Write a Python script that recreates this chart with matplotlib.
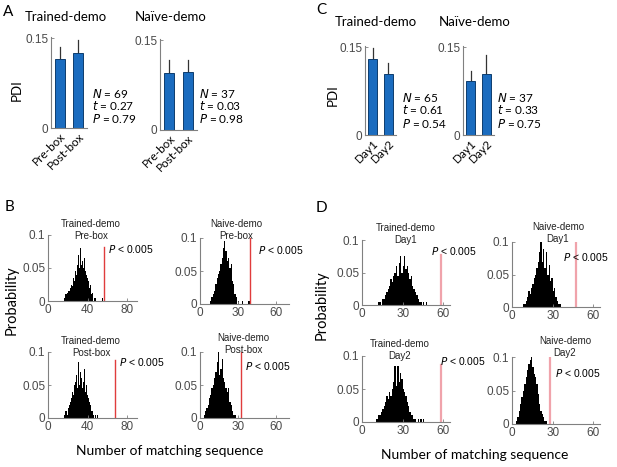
import matplotlib
matplotlib.use("Agg")
import matplotlib.pyplot as plt

W, H = 617, 467

# ---- data: PDI bars (value, upper error bar end) ----
box_labels = ["Pre-box", "Post-box"]
day_labels = ["Day1", "Day2"]
a_trained = [0.115, 0.126]
a_trained_err = [0.135, 0.147]
a_naive = [0.095, 0.097]
a_naive_err = [0.117, 0.117]
c_trained = [0.129, 0.104]
c_trained_err = [0.148, 0.123]
c_naive = [0.092, 0.105]
c_naive_err = [0.110, 0.136]
a_stats_trained = ["69", "0.27", "0.79"]
a_stats_naive = ["37", "0.03", "0.98"]
c_stats_trained = ["65", "0.61", "0.54"]
c_stats_naive = ["37", "0.33", "0.75"]

# ---- data: shuffled distributions (first bin value, probabilities per bin) ----
b_pre_trained_start = 16
b_pre_trained = [0.005, 0.01, 0.01, 0.012, 0.015, 0.015, 0.02, 0.025, 0.022, 0.035,
                 0.03, 0.045, 0.04, 0.055, 0.07, 0.05, 0.08, 0.055, 0.06, 0.05,
                 0.065, 0.045, 0.04, 0.035, 0.03, 0.02, 0.025, 0.01, 0.012, 0.005,
                 0, 0.005, 0.005, 0, 0, 0, 0, 0, 0, 0.005]
b_pre_naive_start = 8
b_pre_naive = [0.005, 0.01, 0.015, 0.02, 0.03, 0.04, 0.045, 0.05, 0.06, 0.07,
               0.085, 0.095, 0.08, 0.065, 0.07, 0.055, 0.06, 0.035, 0.03, 0.015,
               0.01, 0, 0.005, 0, 0, 0.005, 0, 0, 0, 0, 0.005]
b_post_trained_start = 16
b_post_trained = [0.005, 0.01, 0.01, 0.005, 0.015, 0.02, 0.025, 0.03, 0.04, 0.035,
                  0.05, 0.055, 0.065, 0.045, 0.085, 0.05, 0.07, 0.06, 0.045, 0.055,
                  0.075, 0.04, 0.05, 0.035, 0.03, 0.025, 0.02, 0.01, 0.01, 0.005,
                  0.005, 0, 0.005, 0, 0.005]
b_post_naive_start = 0
b_post_naive = [0.005, 0, 0, 0.005, 0.01, 0.015, 0.02, 0.03, 0.035, 0.045,
                0.05, 0.06, 0.07, 0.085, 0.1, 0.065, 0.075, 0.09, 0.06, 0.055,
                0.045, 0.04, 0.045, 0.025, 0.02, 0.01, 0.005, 0.005]
d_day1_trained_start = 12
d_day1_trained = [0.005, 0.005, 0, 0.01, 0.01, 0.015, 0.02, 0.025, 0.03, 0.04,
                  0.035, 0.045, 0.05, 0.06, 0.045, 0.065, 0.075, 0.05, 0.06, 0.075,
                  0.055, 0.06, 0.05, 0.04, 0.045, 0.03, 0.025, 0.02, 0.015, 0.01,
                  0.005, 0.005, 0, 0.005, 0, 0.005]
d_day1_naive_start = 8
d_day1_naive = [0.005, 0.005, 0.01, 0.015, 0.025, 0.02, 0.03, 0.035, 0.045, 0.05,
                0.06, 0.07, 0.085, 0.1, 0.07, 0.09, 0.06, 0.085, 0.05, 0.065,
                0.04, 0.045, 0.025, 0.03, 0.015, 0.01, 0.005, 0.005]
d_day2_trained_start = 10
d_day2_trained = [0.005, 0.005, 0.01, 0.01, 0.015, 0.02, 0.025, 0.03, 0.04, 0.035,
                  0.045, 0.04, 0.05, 0.06, 0.085, 0.055, 0.085, 0.06, 0.075, 0.065,
                  0.05, 0.045, 0.04, 0.03, 0.025, 0.015, 0.01, 0.01, 0.005, 0.005,
                  0, 0.005, 0, 0.005, 0, 0.005]
d_day2_naive_start = 3
d_day2_naive = [0.005, 0.01, 0.02, 0.03, 0.04, 0.05, 0.06, 0.07, 0.08, 0.09,
                0.095, 0.1, 0.085, 0.075, 0.07, 0.06, 0.045, 0.03, 0.02, 0.015,
                0.01, 0.005, 0.005]

# observed values (red lines) and their drawn heights
obs_b = [57, 39.5, 68, 32]
obs_b_h = [0.082, 0.1, 0.088, 0.1]
obs_d = [58.5, 47, 58, 28]
obs_d_h = [0.077, 0.1, 0.086, 0.1]

BLUE = "#1b6cbf"
SPINE = "#808080"
TICKC = "#4a4a4a"
CAL = ["Lato", "DejaVu Sans"]
ARI = ["Liberation Sans", "DejaVu Sans"]

fig = plt.figure(figsize=(W / 100, H / 100), dpi=100)


def box(l, t, r, b):
    return [l / W, 1 - b / H, (r - l) / W, (b - t) / H]


def ftext(x, y, s, **kw):
    kw.setdefault("family", CAL)
    fig.text(x / W, 1 - y / H, s, **kw)


def style(ax):
    for s in ["top", "right"]:
        ax.spines[s].set_visible(False)
    for s in ["left", "bottom"]:
        ax.spines[s].set_color(SPINE)
        ax.spines[s].set_linewidth(0.8)
    ax.tick_params(direction="in", length=2, width=0.6, color=SPINE,
                   labelcolor=TICKC, pad=2)


def bar_panel(rect, vals, errs, labels, stats, stat_x, stat_y):
    ax = fig.add_axes(box(*rect))
    style(ax)
    xs = [1, 2]
    ax.bar(xs, vals, width=0.55, color=BLUE, edgecolor="#0e3d6e", linewidth=0.7, zorder=2)
    for x, v, e in zip(xs, vals, errs):
        ax.plot([x, x], [v, e], color="#333333", lw=0.9, zorder=1)
    ax.set_xlim(0.5, 2.5)
    ax.set_ylim(0, 0.152)
    ax.set_yticks([0, 0.15])
    ax.set_yticklabels(["0", "0.15"], family=ARI, fontsize=8.5)
    ax.set_xticks(xs)
    ax.set_xticklabels(labels, rotation=45, ha="right", rotation_mode="anchor",
                       family=CAL, fontsize=8.5, color="black")
    ax.tick_params(axis="x", length=0)
    names = ["N", "t", "P"]
    for i, (n, v) in enumerate(zip(names, stats)):
        ftext(stat_x, stat_y + i * 13, r"$\it{%s}$ = %s" % (n, v), fontsize=8.5, va="center")
    return ax


bar_panel((51, 37, 87, 128), a_trained, a_trained_err, box_labels, a_stats_trained, 92, 93)
bar_panel((160, 39, 197, 130), a_naive, a_naive_err, box_labels, a_stats_naive, 199, 93)
bar_panel((365, 46, 396, 135), c_trained, c_trained_err, day_labels, c_stats_trained, 402, 97)
bar_panel((463, 46, 494, 135), c_naive, c_naive_err, day_labels, c_stats_naive, 497, 97)

ftext(3, 12, "A", fontsize=11, va="center")
ftext(316, 10, "C", fontsize=11, va="center")
ftext(5, 207, "B", fontsize=11, va="center")
ftext(316, 208, "D", fontsize=11, va="center")
ftext(66, 17, "Trained-demo", fontsize=9.5, ha="center", va="center")
ftext(171, 17, "Naïve-demo", fontsize=9.5, ha="center", va="center")
ftext(376, 22, "Trained-demo", fontsize=9.5, ha="center", va="center")
ftext(475, 22, "Naïve-demo", fontsize=9.5, ha="center", va="center")
ftext(17, 90, "PDI", fontsize=9.5, rotation=90, ha="center", va="center")
ftext(333, 95, "PDI", fontsize=9.5, rotation=90, ha="center", va="center")


def hist_panel(rect, start, probs, xmax, xticks, obs, obs_h, line_color, line_w,
               title, ttl_x, ttl_y, p_x, p_y):
    ax = fig.add_axes(box(*rect))
    style(ax)
    xs = [start + i for i in range(len(probs))]
    ax.bar(xs, probs, width=1.0, align="edge", color="black", linewidth=0)
    ax.plot([obs, obs], [0, obs_h], color=line_color, lw=line_w)
    ax.set_xlim(0, xmax)
    ax.set_ylim(0, 0.1)
    ax.set_yticks([0, 0.05, 0.1])
    ax.set_yticklabels(["0", "0.05", "0.1"], family=ARI, fontsize=8.5)
    ax.set_xticks(xticks)
    ax.set_xticklabels([str(v) for v in xticks], family=ARI, fontsize=8.5)
    ftext(ttl_x, ttl_y, title[0], family=ARI, fontsize=7, ha="center", va="center",
          color="#222222")
    ftext(ttl_x, ttl_y + 12, title[1], family=ARI, fontsize=7, ha="center", va="center",
          color="#222222")
    ftext(p_x, p_y, r"$\it{P}$ < 0.005", family=ARI, fontsize=7.5, va="center")
    return ax


RED_B = "#e03c3c"
RED_D = "#f0a3ab"
hist_panel((48, 235, 137, 301), b_pre_trained_start, b_pre_trained, 90, [0, 40, 80],
           obs_b[0], obs_b_h[0], RED_B, 1.0, ("Trained-demo", "Pre-box"), 91, 224, 108, 249)
hist_panel((200, 238, 289, 304), b_pre_naive_start, b_pre_naive, 70, [0, 30, 60],
           obs_b[1], obs_b_h[1], RED_B, 1.0, ("Naive-demo", "Pre-box"), 236, 224, 258, 250)
hist_panel((48, 352, 137, 418), b_post_trained_start, b_post_trained, 90, [0, 40, 80],
           obs_b[2], obs_b_h[2], RED_B, 1.0, ("Trained-demo", "Post-box"), 91, 341, 119, 362)
hist_panel((200, 352, 289, 418), b_post_naive_start, b_post_naive, 70, [0, 30, 60],
           obs_b[3], obs_b_h[3], RED_B, 1.0, ("Naive-demo", "Post-box"), 243, 338, 245, 366)
hist_panel((362, 240, 450, 305), d_day1_trained_start, d_day1_trained, 65, [0, 30, 60],
           obs_d[0], obs_d_h[0], RED_D, 1.6, ("Trained-demo", "Day1"), 406, 228, 431, 251)
hist_panel((512, 242, 600, 307), d_day1_naive_start, d_day1_naive, 65, [0, 30, 60],
           obs_d[1], obs_d_h[1], RED_D, 1.6, ("Naive-demo", "Day1"), 558, 227, 563, 257)
hist_panel((362, 356, 450, 422), d_day2_trained_start, d_day2_trained, 65, [0, 30, 60],
           obs_d[2], obs_d_h[2], RED_D, 1.6, ("Trained-demo", "Day2"), 400, 344, 440, 361)
hist_panel((512, 357, 600, 424), d_day2_naive_start, d_day2_naive, 65, [0, 30, 60],
           obs_d[3], obs_d_h[3], RED_D, 1.6, ("Naive-demo", "Day2"), 565, 341, 555, 373)

ftext(12, 300, "Probability", fontsize=10.5, rotation=90, ha="center", va="center")
ftext(322, 305, "Probability", fontsize=10.5, rotation=90, ha="center", va="center")
ftext(170, 451, "Number of matching sequence", fontsize=10, ha="center", va="center")
ftext(475, 455, "Number of matching sequence", fontsize=10, ha="center", va="center")

fig.savefig("out.png", dpi=100)
